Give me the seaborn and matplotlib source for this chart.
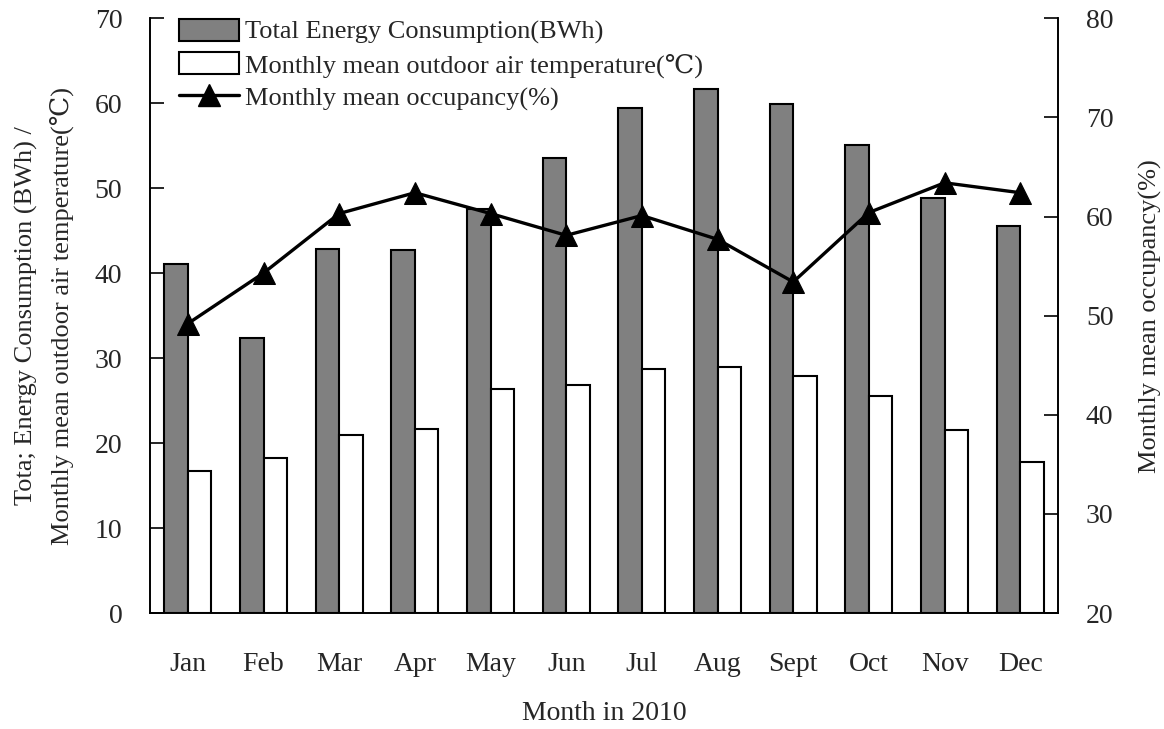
import numpy as np
import pandas as pd
import seaborn as sns
import matplotlib.pyplot as plt
from matplotlib.patches import Patch
from matplotlib.lines import Line2D

months = ['Jan', 'Feb', 'Mar', 'Apr', 'May', 'Jun', 'Jul', 'Aug', 'Sept', 'Oct', 'Nov', 'Dec']
energy = [41.1, 32.4, 42.9, 42.7, 47.6, 53.5, 59.4, 61.7, 59.9, 55.1, 48.9, 45.6]
temperature = [16.7, 18.2, 20.9, 21.7, 26.4, 26.8, 28.7, 28.9, 27.9, 25.6, 21.5, 17.8]
occupancy = [49.2, 54.3, 60.3, 62.4, 60.3, 58.1, 60.1, 57.7, 53.4, 60.4, 63.4, 62.4]

lab_energy = 'Total Energy Consumption(BWh)'
lab_temp = 'Monthly mean outdoor air temperature(\u2103)'
lab_occ = 'Monthly mean occupancy(%)'

sns.set_style('white')
fonts = ['Liberation Serif', 'DejaVu Serif', 'DejaVu Sans']
plt.rcParams['font.family'] = fonts
plt.rcParams['font.size'] = 20

df = pd.DataFrame({'month': months * 2,
                   'value': energy + temperature,
                   'series': [lab_energy] * 12 + [lab_temp] * 12})

fig = plt.figure(figsize=(11.64, 7.29), dpi=100)
ax = fig.add_axes([0.1289, 0.159, 0.7801, 0.816])
sns.barplot(data=df, x='month', y='value', hue='series', ax=ax,
            palette=['#808080', 'white'], edgecolor='black', linewidth=1.5,
            width=0.62, gap=0, legend=False)

ax.set_xlim(-0.5, 11.5)
ax.set_ylim(0, 70)
ax.set_yticks(np.arange(0, 71, 10))
ax.set_xlabel('Month in 2010', labelpad=17)
ax.set_ylabel('Tota; Energy Consumption (BWh) /\nMonthly mean outdoor air temperature(\u2103)',
              linespacing=1.6, labelpad=15, fontsize=19)
ax.tick_params(axis='x', which='major', length=0, pad=28)
ax.set_xticks(np.arange(-0.5, 12, 1), minor=True)
ax.tick_params(axis='x', which='minor', direction='in', length=9, width=1.2, color='black')
ax.tick_params(axis='y', direction='in', length=10, width=1.2, color='black', left=True, pad=20)

ax2 = ax.twinx()
occ_df = pd.DataFrame({'pos': np.arange(12), 'occ': occupancy})
sns.lineplot(data=occ_df, x='pos', y='occ', ax=ax2, color='black', linewidth=2.4,
             marker='^', markersize=16, markeredgecolor='black')
ax2.set_ylim(20, 80)
ax2.set_yticks(np.arange(20, 81, 10))
ax2.set_ylabel(lab_occ, labelpad=18, fontsize=19)
ax2.set_xlabel('')
ax2.tick_params(axis='y', direction='in', length=10, width=1.2, color='black', right=True, pad=20)
ax2.set_xlim(-0.5, 11.5)

for a in (ax, ax2):
    a.spines['top'].set_visible(False)
    for s in ('left', 'right', 'bottom'):
        a.spines[s].set_color('black')
        a.spines[s].set_linewidth(1.2)

handles = [Patch(facecolor='#808080', edgecolor='black', linewidth=1.5),
           Patch(facecolor='white', edgecolor='black', linewidth=1.5),
           Line2D([], [], color='black', linewidth=2.4, marker='^', markersize=16)]
ax2.legend(handles, [lab_energy, lab_temp, lab_occ], loc='upper left',
           bbox_to_anchor=(0.02, 1.017), frameon=False, handlelength=2.3,
           handleheight=0.9, handletextpad=0.2, labelspacing=0.3, borderaxespad=0,
           fontsize=19)

fig.savefig('out.png', dpi=100)
